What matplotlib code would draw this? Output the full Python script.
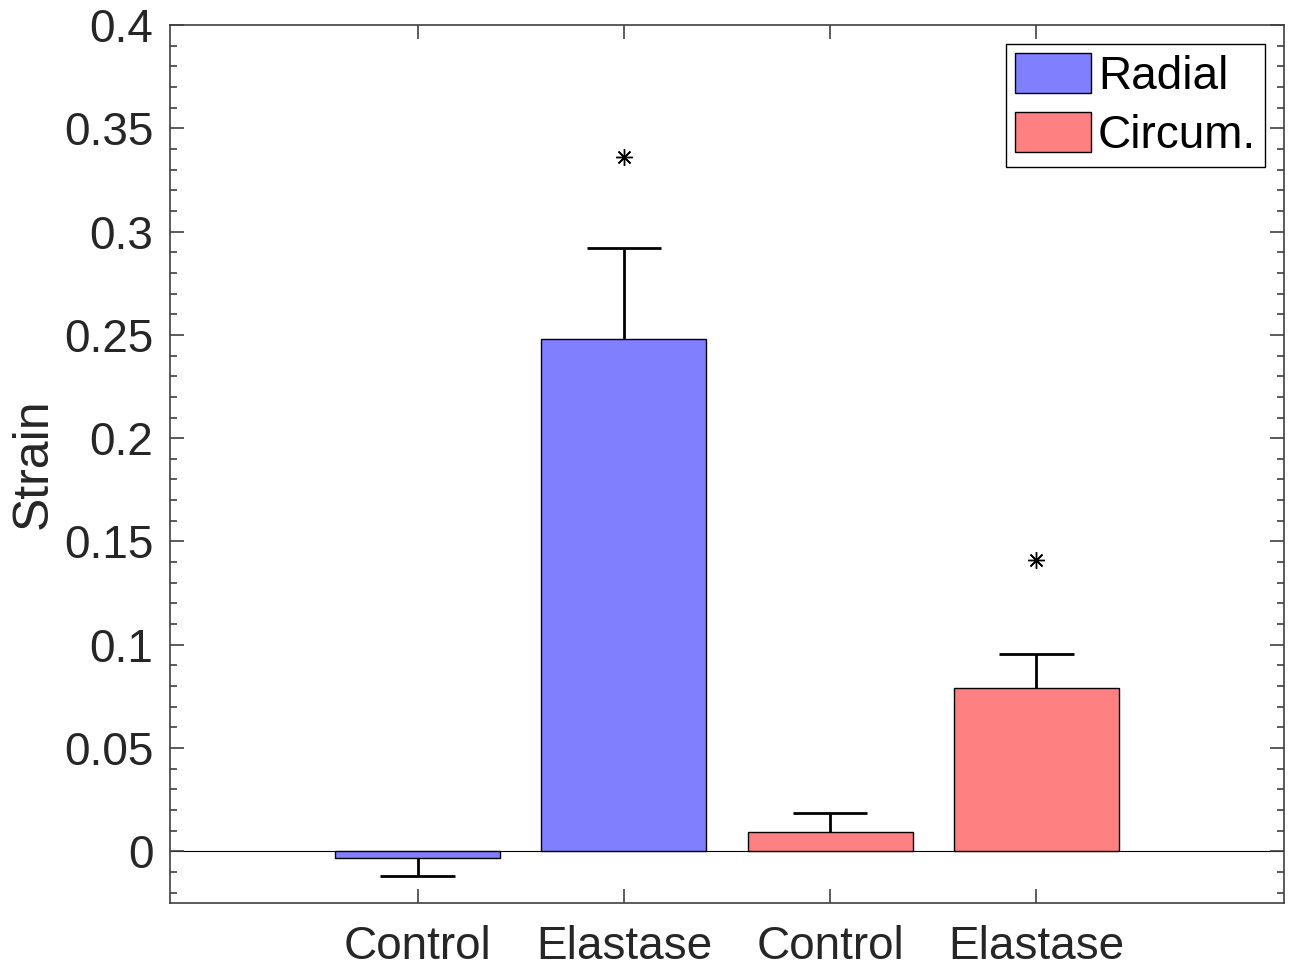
import numpy as np
import matplotlib
matplotlib.use("Agg")
from matplotlib import pyplot as plt
from matplotlib.patches import Patch
from matplotlib.ticker import MultipleLocator

plt.rcParams['font.family'] = ['Liberation Sans', 'DejaVu Sans']

categories = ['Control', 'Elastase', 'Control', 'Elastase']
series = ['Radial', 'Radial', 'Circum.', 'Circum.']
strain = [-0.003, 0.248, 0.0093, 0.0793]
err = [0.0088, 0.044, 0.0095, 0.016]
signif = [None, 0.336, None, 0.141]

colors = {'Radial': '#8080FF', 'Circum.': '#FF8080'}

fig = plt.figure(figsize=(12.91, 9.68), dpi=100)
ax = fig.add_axes([170 / 1291, 65 / 968, 1114 / 1291, 878 / 968])

x = np.arange(1, len(strain) + 1)
ax.bar(x, strain, width=0.8, color=[colors[s] for s in series],
       edgecolor='black', linewidth=1.0, zorder=2)

# one-sided error bars, pointing away from zero
cap = 0.18
for xi, v, e in zip(x, strain, err):
    tip = v - e if v < 0 else v + e
    ax.vlines(xi, v, tip, color='black', linewidth=2, zorder=3)
    ax.hlines(tip, xi - cap, xi + cap, color='black', linewidth=2, zorder=3)

for xi, s in zip(x, signif):
    if s is not None:
        ax.plot(xi, s, marker=(8, 2, 0), color='black', markersize=12,
                markeredgewidth=1.0, linestyle='none', zorder=3)

ax.axhline(0, color='black', linewidth=0.8, zorder=1)

ax.set_xlim(-0.2, 5.2)
ax.set_ylim(-0.025, 0.4)
ax.set_xticks(x)
ax.set_xticklabels(categories)
ax.yaxis.set_major_locator(MultipleLocator(0.05))
ax.yaxis.set_minor_locator(MultipleLocator(0.01))
ax.set_yticks(np.arange(0, 0.41, 0.05))
ax.set_yticklabels(['0', '0.05', '0.1', '0.15', '0.2', '0.25', '0.3', '0.35', '0.4'])

ax.tick_params(axis='both', which='both', direction='in', top=True, right=True,
               labelsize=33, color='#404040', labelcolor='#262626')
ax.tick_params(axis='y', which='major', length=10, width=1.2, pad=12)
ax.tick_params(axis='y', which='minor', length=5, width=1.2)
ax.tick_params(axis='x', which='major', length=10, width=1.2, pad=16)
ax.tick_params(axis='x', which='minor', bottom=False, top=False)
for sp in ax.spines.values():
    sp.set_color('#404040')
    sp.set_linewidth(1.2)

ax.set_ylabel('Strain', fontsize=36, labelpad=5, color='#262626')

handles = [Patch(facecolor=colors['Radial'], edgecolor='black', label='Radial'),
           Patch(facecolor=colors['Circum.'], edgecolor='black', label='Circum.')]
leg = ax.legend(handles=handles, loc='upper right', fontsize=33, fancybox=False,
                edgecolor='black', framealpha=1, handlelength=1.66, handleheight=0.96,
                handletextpad=0.15, borderpad=0.2, labelspacing=0.3,
                borderaxespad=0.41)
leg.get_frame().set_linewidth(1.0)

fig.savefig('out.png', dpi=100)
